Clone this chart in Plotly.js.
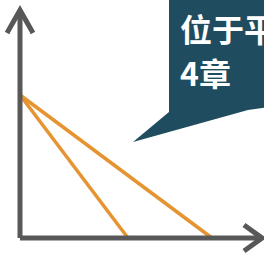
<!DOCTYPE html>
<html><head><meta charset="utf-8">
<script src="https://cdn.plot.ly/plotly-3.0.1.min.js"></script>
<style>html,body{margin:0;padding:0;background:#fff;}#c{width:264px;height:255px;}</style>
</head><body><div id="c"></div>
<script>
// data (units: chart units, origin at axes corner)
const lineAX = [0, 108];
const lineAY = [143, 0];
const lineBX = [0, 192];
const lineBY = [143, 0];
const bubbleLines = ['位于平', '4章'];

const orange = '#E59431';
const axisCol = '#585858';
const teal = '#1F4C5E';

const traces = [
  {x: lineAX, y: lineAY, mode: 'lines', line: {color: orange, width: 3.5}, hoverinfo: 'skip'},
  {x: lineBX, y: lineBY, mode: 'lines', line: {color: orange, width: 3.5}, hoverinfo: 'skip'}
];

const shapes = [
  // speech bubble
  {type: 'path', xref: 'x', yref: 'y', layer: 'above',
   path: 'M149,245 L250,245 L250,131 L228,128 L113,96 L149,126 Z',
   fillcolor: teal, line: {width: 0}},
  // axes
  {type: 'line', x0: 0, y0: 0, x1: 0, y1: 227, line: {color: axisCol, width: 5}},
  {type: 'line', x0: 0, y0: 0, x1: 241, y1: 0, line: {color: axisCol, width: 5}},
  {type: 'path', path: 'M-13,205 L0,228 L13,205', line: {color: axisCol, width: 5}},
  {type: 'path', path: 'M224,13 L242,0 L224,-13', line: {color: axisCol, width: 5}}
];

const annotations = [
  {x: 158, y: 210, xanchor: 'left', yanchor: 'middle', showarrow: false, text: '<b>' + bubbleLines[0] + '</b>',
   font: {family: 'Noto Sans CJK SC', size: 32, color: '#ffffff'}},
  {x: 158, y: 166, xanchor: 'left', yanchor: 'middle', showarrow: false, text: '<b>' + bubbleLines[1] + '</b>',
   font: {family: 'Noto Sans CJK SC', size: 32, color: '#ffffff'}}
];

Plotly.newPlot('c', traces, {
  width: 264, height: 255,
  margin: {l: 0, r: 0, t: 0, b: 0},
  paper_bgcolor: '#ffffff', plot_bgcolor: '#ffffff',
  showlegend: false,
  xaxis: {range: [-20, 244], visible: false, fixedrange: true},
  yaxis: {range: [-17, 238], visible: false, fixedrange: true},
  shapes: shapes, annotations: annotations
}, {staticPlot: true});
</script></body></html>
